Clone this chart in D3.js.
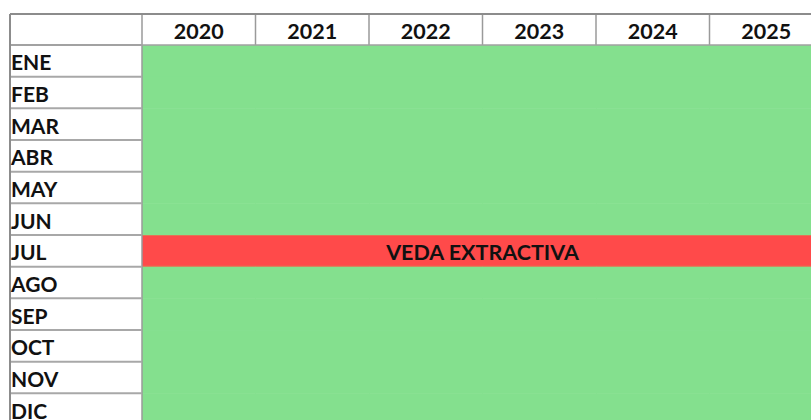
<!DOCTYPE html>
<html>
<head>
<meta charset="utf-8">
<script src="https://cdn.jsdelivr.net/npm/d3@7"></script>
<style>
body { margin: 0; background: #fff; }
text { font-family: Lato, "Open Sans", sans-serif; font-weight: bold; fill: #111; }
</style>
</head>
<body>
<svg width="811" height="420"></svg>
<script>
var years = ["2020", "2021", "2022", "2023", "2024", "2025"];
var months = ["ENE", "FEB", "MAR", "ABR", "MAY", "JUN", "JUL", "AGO", "SEP", "OCT", "NOV", "DIC"];
var vedaMonths = ["JUL"];
var vedaLabel = "VEDA EXTRACTIVA";

var svg = d3.select("svg");

var leftX = 10, labelW = 132, topY = 14, headH = 31, colW = 113.5, rowH = 31.67;

var x = d3.scaleBand()
  .domain(years)
  .range([leftX + labelW, leftX + labelW + years.length * colW]);

var y = d3.scaleBand()
  .domain(months)
  .range([topY + headH, topY + headH + months.length * rowH]);

// cells
var cells = [];
months.forEach(function(m) {
  years.forEach(function(yr) {
    cells.push({month: m, year: yr, veda: vedaMonths.indexOf(m) >= 0});
  });
});

svg.selectAll(".cell")
  .data(cells)
  .enter().append("rect")
  .attr("class", "cell")
  .attr("x", function(d) { return x(d.year); })
  .attr("y", function(d) { return y(d.month); })
  .attr("width", x.bandwidth() + 0.5)
  .attr("height", y.bandwidth() + 0.5)
  .attr("fill", function(d) { return d.veda ? "#ff4a4a" : "#84e08e"; });

// faint edge line around the veda row
vedaMonths.forEach(function(m) {
  svg.append("line")
    .attr("x1", x.range()[0]).attr("x2", x.range()[1])
    .attr("y1", y(m) + 0.5).attr("y2", y(m) + 0.5)
    .attr("stroke", "#c9a060").attr("stroke-opacity", 0.5);
  svg.append("line")
    .attr("x1", x.range()[0]).attr("x2", x.range()[1])
    .attr("y1", y(m) + y.bandwidth() - 0.5).attr("y2", y(m) + y.bandwidth() - 0.5)
    .attr("stroke", "#c9a060").attr("stroke-opacity", 0.5);
});

// header grid
svg.selectAll(".vline")
  .data(years)
  .enter().append("line")
  .attr("class", "vline")
  .attr("x1", function(d) { return x(d); })
  .attr("x2", function(d) { return x(d); })
  .attr("y1", topY)
  .attr("y2", function(d, i) { return i === 0 ? y.range()[1] : topY + headH; })
  .attr("stroke", "#9a9a9a")
  .attr("stroke-width", 1.5);

// label column row lines
svg.selectAll(".hline")
  .data(months)
  .enter().append("line")
  .attr("class", "hline")
  .attr("x1", leftX)
  .attr("x2", x.range()[0])
  .attr("y1", function(d) { return y(d); })
  .attr("y2", function(d) { return y(d); })
  .attr("stroke", "#a8a8a8")
  .attr("stroke-width", 2);

svg.append("line")
  .attr("x1", leftX).attr("x2", 811)
  .attr("y1", topY + headH).attr("y2", topY + headH)
  .attr("stroke", "#a0a0a0").attr("stroke-width", 1.5);

svg.append("line")
  .attr("x1", leftX).attr("x2", 811)
  .attr("y1", topY).attr("y2", topY)
  .attr("stroke", "#8c8c8c").attr("stroke-width", 2);

svg.append("line")
  .attr("x1", leftX).attr("x2", leftX)
  .attr("y1", topY).attr("y2", 420)
  .attr("stroke", "#8c8c8c").attr("stroke-width", 2);

// texts
svg.selectAll(".year")
  .data(years)
  .enter().append("text")
  .attr("class", "year")
  .attr("x", function(d) { return x(d) + x.bandwidth() / 2; })
  .attr("y", topY + headH / 2 + 1)
  .attr("text-anchor", "middle")
  .attr("dominant-baseline", "central")
  .style("font-size", "21.5px")
  .text(function(d) { return d; });

svg.selectAll(".month")
  .data(months)
  .enter().append("text")
  .attr("class", "month")
  .attr("x", leftX + 1)
  .attr("y", function(d) { return y(d) + y.bandwidth() / 2 + 1; })
  .attr("dominant-baseline", "central")
  .style("font-size", "21px")
  .text(function(d) { return d; });

vedaMonths.forEach(function(m) {
  svg.append("text")
    .attr("x", (x.range()[0] + x.range()[1]) / 2)
    .attr("y", y(m) + y.bandwidth() / 2 + 1)
    .attr("text-anchor", "middle")
    .attr("dominant-baseline", "central")
    .style("font-size", "21.5px")
    .text(vedaLabel);
});
</script>
</body>
</html>
